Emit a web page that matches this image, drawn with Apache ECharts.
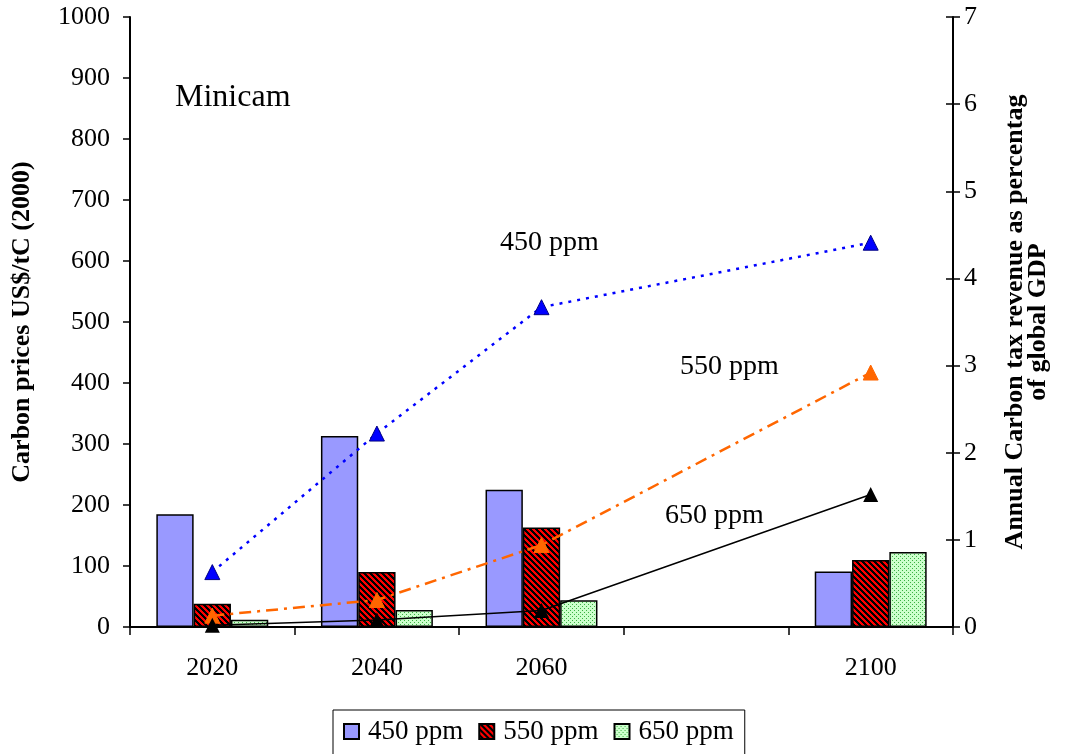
<!DOCTYPE html>
<html><head><meta charset="utf-8">
<script src="https://cdn.jsdelivr.net/npm/echarts@6/dist/echarts.min.js"></script>
<style>html,body{margin:0;padding:0;background:#fff}#c{width:1077px;height:754px}</style>
</head><body><div id="c"></div>
<script>
// ---- data ----
const categories = ['2020', '2040', '2060', '', '2100'];
const price450 = [185, 313, 225, null, 91];
const price550 = [38, 90, 163, null, 110];
const price650 = [12, 28, 44, null, 123];
const revenue450 = [0.63, 2.22, 3.67, null, 4.41];
const revenue550 = [0.13, 0.31, 0.94, null, 2.92];
const revenue650 = [0.02, 0.08, 0.19, null, 1.52];
const leftTicks = [0, 1000, 100];
const rightTicks = [0, 7, 1];

function stripes() {
  const n = 6, c = document.createElement('canvas');
  c.width = n; c.height = n;
  const g = c.getContext('2d');
  for (let x = 0; x < n; x++) for (let y = 0; y < n; y++) {
    g.fillStyle = ((x - y + n) % n) < 3 ? '#000000' : '#FF0000';
    g.fillRect(x, y, 1, 1);
  }
  return c;
}
function dots() {
  const n = 4, c = document.createElement('canvas');
  c.width = n; c.height = n;
  const g = c.getContext('2d');
  g.fillStyle = '#CCFFCC'; g.fillRect(0, 0, n, n);
  g.fillStyle = '#3CB043';
  g.fillRect(0, 0, 1, 1); g.fillRect(2, 2, 1, 1);
  return c;
}

const serif = '"Liberation Serif", "Times New Roman", serif';
const chart = echarts.init(document.getElementById('c'));
const barStyle = (color) => ({ color: color, borderColor: '#000', borderWidth: 1.5 });
const rightAxisBase = { type: 'value', min: rightTicks[0], max: rightTicks[1], interval: rightTicks[2], position: 'right', splitLine: { show: false } };
chart.setOption({
  animation: false,
  textStyle: { fontFamily: serif },
  grid: { left: 130, right: 124, top: 17, bottom: 127 },
  legend: {
    data: ['450 ppm', '550 ppm', '650 ppm'],
    left: 333, top: 710,
    borderColor: '#000', borderWidth: 1,
    padding: [8, 11, 12, 10],
    itemWidth: 15, itemHeight: 15, itemGap: 15,
    icon: 'rect',
    textStyle: { fontFamily: serif, fontSize: 27, color: '#000', padding: [0, 0, 0, 4] }
  },
  xAxis: {
    type: 'category', data: categories, boundaryGap: true,
    axisLine: { lineStyle: { color: '#000', width: 2 } },
    axisTick: { show: true, length: 8, lineStyle: { color: '#000', width: 1.5 } },
    axisLabel: { fontFamily: serif, fontSize: 26, color: '#000', margin: 28 }
  },
  yAxis: [{
    type: 'value', min: leftTicks[0], max: leftTicks[1], interval: leftTicks[2],
    name: 'Carbon prices US$/tC (2000)', nameLocation: 'middle', nameRotate: 90, nameGap: 95,
    nameTextStyle: { fontFamily: serif, fontSize: 26, fontWeight: 'bold', color: '#000' },
    axisLine: { show: true, lineStyle: { color: '#000', width: 2 } },
    axisTick: { show: true, length: 7, lineStyle: { color: '#000', width: 1.5 } },
    axisLabel: { fontFamily: serif, fontSize: 26, color: '#000', margin: 20, formatter: (v) => String(v) },
    splitLine: { show: false }
  }, Object.assign({}, rightAxisBase, {
    name: 'Annual Carbon tax revenue as percentag\nof global GDP', nameLocation: 'middle', nameRotate: 90, nameGap: 51,
    nameTextStyle: { fontFamily: serif, fontSize: 26, fontWeight: 'bold', color: '#000', lineHeight: 23, align: 'center' },
    axisLine: { show: true, lineStyle: { color: '#000', width: 2 } },
    axisTick: { show: true, length: 7, lineStyle: { color: '#000', width: 1.5 } },
    axisLabel: { fontFamily: serif, fontSize: 26, color: '#000', margin: 11 }
  }), Object.assign({}, rightAxisBase, {
    axisLine: { show: false },
    axisTick: { show: true, inside: true, length: 7, lineStyle: { color: '#000', width: 1.5 } },
    axisLabel: { show: false }
  })],
  series: [
    { name: '450 ppm', type: 'bar', data: price450, barGap: '0%', barCategoryGap: '32%', itemStyle: barStyle('#9999FF') },
    { name: '550 ppm', type: 'bar', data: price550, itemStyle: barStyle({ image: stripes(), repeat: 'repeat' }) },
    { name: '650 ppm', type: 'bar', data: price650, itemStyle: barStyle({ image: dots(), repeat: 'repeat' }) },
    { name: '450 ppm line', type: 'line', yAxisIndex: 1, data: revenue450, connectNulls: true,
      symbol: 'triangle', symbolSize: 15,
      lineStyle: { color: '#0000FF', width: 2.5, type: [3, 6] },
      itemStyle: { color: '#0000FF', borderColor: '#000080', borderWidth: 1 } },
    { name: '550 ppm line', type: 'line', yAxisIndex: 1, data: revenue550, connectNulls: true,
      symbol: 'triangle', symbolSize: 15,
      lineStyle: { color: '#FF6600', width: 2.5, type: [12, 6, 3, 6] },
      itemStyle: { color: '#FF6600', borderColor: '#FF6600', borderWidth: 1 } },
    { name: '650 ppm line', type: 'line', yAxisIndex: 1, data: revenue650, connectNulls: true,
      symbol: 'triangle', symbolSize: 15,
      lineStyle: { color: '#000', width: 1.5 },
      itemStyle: { color: '#000' } }
  ],
  graphic: [
    { type: 'text', left: 175, top: 82, style: { text: 'Minicam', font: '32px ' + serif, fill: '#000' } },
    { type: 'text', left: 500, top: 229, style: { text: '450 ppm', font: '28px ' + serif, fill: '#000' } },
    { type: 'text', left: 680, top: 353, style: { text: '550 ppm', font: '28px ' + serif, fill: '#000' } },
    { type: 'text', left: 665, top: 502, style: { text: '650 ppm', font: '28px ' + serif, fill: '#000' } }
  ]
});
</script></body></html>
